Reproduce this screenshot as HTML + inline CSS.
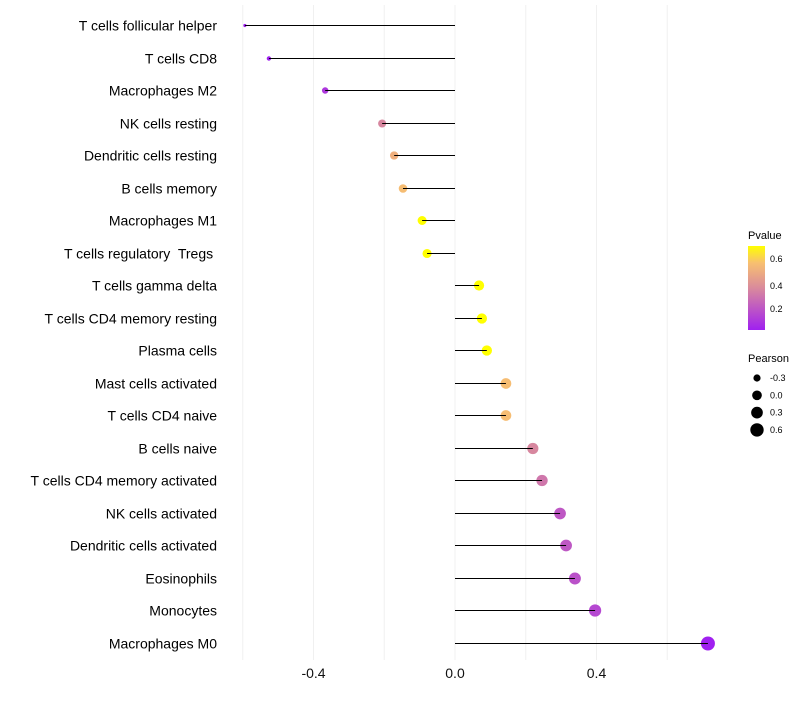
<!DOCTYPE html>
<html><head><meta charset="utf-8"><style>
body{margin:0;background:#fff;font-family:"Liberation Sans",sans-serif}
text{white-space:pre}
</style></head><body>
<svg id="c" width="800" height="700" xmlns="http://www.w3.org/2000/svg">
<defs><linearGradient id="pg" x1="0" y1="1" x2="0" y2="0">
<stop offset="0" stop-color="#a020f0"/><stop offset="0.5" stop-color="#d98a9c"/><stop offset="0.8" stop-color="#f8c070"/><stop offset="1" stop-color="#ffff00"/></linearGradient></defs>
<g id="grid"></g><g id="marks"></g><g id="labels"></g>
<g>
<text x="748" y="239" font-size="11">Pvalue</text>
<rect x="748" y="246" width="17" height="84" fill="url(#pg)"/>
<text x="770" y="262" font-size="9">0.6</text>
<text x="770" y="289" font-size="9">0.4</text>
<text x="770" y="312" font-size="9">0.2</text>
</g>
<g id="sizeleg">
<text x="748" y="362" font-size="11">Pearson</text>
</g>
</svg>
<script>
const categories=["T cells follicular helper","T cells CD8","Macrophages M2","NK cells resting","Dendritic cells resting","B cells memory","Macrophages M1","T cells regulatory  Tregs ","T cells gamma delta","T cells CD4 memory resting","Plasma cells","Mast cells activated","T cells CD4 naive","B cells naive","T cells CD4 memory activated","NK cells activated","Dendritic cells activated","Eosinophils","Monocytes","Macrophages M0"];
const pearson=[-0.594,-0.526,-0.367,-0.206,-0.172,-0.147,-0.093,-0.079,0.068,0.076,0.090,0.144,0.144,0.220,0.246,0.297,0.314,0.339,0.396,0.715];
const pvalue=[0.01,0.02,0.1,0.35,0.5,0.55,0.75,0.78,0.8,0.8,0.78,0.55,0.55,0.35,0.3,0.2,0.2,0.18,0.15,0.02];
const xTicks=[-0.4,0.0,0.4];
const gridVals=[-0.6,-0.4,-0.2,0,0.2,0.4,0.6];
const sizeLegend=[-0.3,0.0,0.3,0.6];
const NS="http://www.w3.org/2000/svg";
const x=v=>455+v*353.75;
const y=i=>Math.round(25+i*32.5)+0.5;
const r=v=>Math.sqrt(Math.max(1,2.25+(v+0.6)/1.32*46.75));
function col(p){const t=Math.max(0,Math.min(1,(p-0.024)/0.672));
const stops=[[0,[160,32,240]],[0.5,[217,138,156]],[0.8,[248,192,112]],[1,[255,255,0]]];
for(let k=1;k<stops.length;k++){if(t<=stops[k][0]){const a=stops[k-1],b=stops[k];const f=(t-a[0])/(b[0]-a[0]);
return "rgb("+a[1].map((c,j)=>Math.round(c+(b[1][j]-c)*f)).join(",")+")";}}return "rgb(255,255,0)";}
function mk(t,a){const e=document.createElementNS(NS,t);for(const k in a)e.setAttribute(k,a[k]);return e;}
const G=document.getElementById("grid"),M=document.getElementById("marks"),L=document.getElementById("labels");
gridVals.forEach(v=>{const l=mk("line",{x1:x(v),x2:x(v),y1:5,y2:660,stroke:"#f0f0f0","stroke-width":1});

G.appendChild(l);});
xTicks.forEach(v=>{const t=mk("text",{x:x(v),y:678,"font-size":14,"text-anchor":"middle",fill:"#111"});t.textContent=v.toFixed(1);

L.appendChild(t);});
categories.forEach((c,i)=>{
const t=mk("text",{x:217,y:y(i)+5,"font-size":14,"text-anchor":"end",fill:"#000"});t.textContent=c;

L.appendChild(t);
const p=mk("circle",{cx:x(pearson[i]),cy:y(i),r:r(pearson[i]),fill:col(pvalue[i])});

M.appendChild(p);
const s=mk("line",{x1:x(0),x2:x(pearson[i]),y1:y(i),y2:y(i),stroke:"#000","stroke-width":1});

M.appendChild(s);});
const SL=document.getElementById("sizeleg");
sizeLegend.forEach((v,k)=>{const cy=378+k*17.3;
const c=mk("circle",{cx:757,cy:cy,r:r(v),fill:"#000"});

SL.appendChild(c);
const t=mk("text",{x:770,y:cy+3,"font-size":9});t.textContent=v.toFixed(1);

SL.appendChild(t);});
</script>
</body></html>
